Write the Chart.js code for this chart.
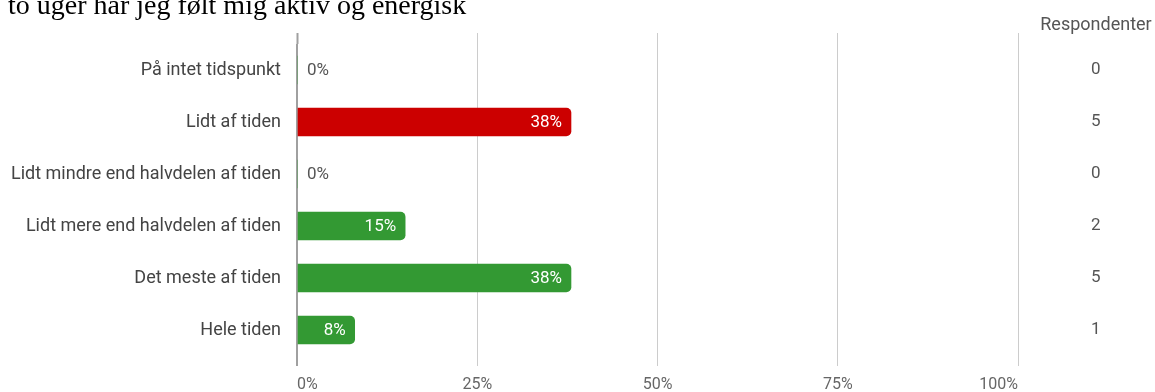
<!DOCTYPE html>
<html>
<head>
<meta charset="utf-8">
<script src="https://cdn.jsdelivr.net/npm/chart.js@4/dist/chart.umd.min.js"></script>
<style>
	html, body { margin: 0; padding: 0; background: #fff; overflow: hidden; }
	#wrap { position: relative; width: 1155px; height: 392px; }
	#title {
		position: absolute; left: 8px; top: -9px; white-space: nowrap;
		font: 28px/28px "Liberation Serif", "Times New Roman", serif; color: #000;
	}
	#resp {
		position: absolute; left: 1036px; top: 13px; width: 120px; text-align: center;
		font: 18px/22px Roboto, sans-serif; color: #555;
	}
	canvas { position: absolute; left: 0; top: 0; }
</style>
</head>
<body>
<div id="wrap">
	<canvas id="chart" width="1155" height="392"></canvas>
	<div id="title">to uger har jeg følt mig aktiv og energisk</div>
	<div id="resp">Respondenter</div>
</div>
<script>
const categories = [
	'På intet tidspunkt',
	'Lidt af tiden',
	'Lidt mindre end halvdelen af tiden',
	'Lidt mere end halvdelen af tiden',
	'Det meste af tiden',
	'Hele tiden'
];
const percentValues = [ 0, 38, 0, 15, 38, 8 ];
const respondents = [ 0, 5, 0, 2, 5, 1 ];
const barColors = [ '#339933', '#cc0000', '#339933', '#339933', '#339933', '#339933' ];
const xTicks = [ 0, 25, 50, 75, 100 ];

// ---- bar value labels
const barLabels = {
	id: 'barLabels',
	afterDatasetsDraw( chart ) {
		const ctx = chart.ctx;
		const meta = chart.getDatasetMeta( 0 );
		ctx.save();
		ctx.font = '17px Roboto, sans-serif';
		ctx.textBaseline = 'middle';
		meta.data.forEach( ( bar, i ) => {
			const txt = percentValues[ i ] + '%';
			if ( percentValues[ i ] > 5 ) {
				ctx.fillStyle = '#ffffff';
				ctx.textAlign = 'right';
				ctx.fillText( txt, bar.x - 9, bar.y + 1 );
			} else {
				ctx.fillStyle = '#555555';
				ctx.textAlign = 'left';
				ctx.fillText( txt, bar.base + 10, bar.y + 1 );
			}
		} );
		ctx.restore();
	}
};

const gridColor = ( c ) => ( c.tick && c.tick.value === 0 ) ? '#a0a0a0' : '#cccccc';
const gridWidth = ( c ) => ( c.tick && c.tick.value === 0 ) ? 2 : 1;

// fixed axis sizes, and no extra vertical padding from tick padding
const fixWidth = ( w ) => ( s ) => { s.width = w; s.paddingTop = 0; s.paddingBottom = 0; };

new Chart( document.getElementById( 'chart' ), {
	type: 'bar',
	data: {
		labels: categories,
		datasets: [ {
			data: percentValues,
			backgroundColor: barColors,
			borderRadius: 5,
			barThickness: 28
		} ]
	},
	options: {
		indexAxis: 'y',
		responsive: false,
		animation: false,
		layout: { padding: { top: 33, right: 0, bottom: 0, left: 0 } },
		plugins: { legend: { display: false }, tooltip: { enabled: false } },
		scales: {
			x: {
				position: 'bottom',
				min: 0,
				max: 100,
				afterBuildTicks: ( s ) => { s.ticks = xTicks.map( ( v ) => ( { value: v } ) ); },
				grid: { color: gridColor, lineWidth: gridWidth, tickLength: 10, tickColor: gridColor, tickWidth: gridWidth },
				border: { display: false },
				ticks: {
					padding: 9,
					align: 'inner',
					color: '#666666',
					font: { family: 'Roboto', size: 16 },
					maxRotation: 0,
					callback: ( v ) => v + '%'
				},
				afterFit: ( s ) => { s.height = 36; }
			},
			x2: {
				position: 'top',
				min: 0,
				max: 100,
				afterBuildTicks: ( s ) => { s.ticks = xTicks.map( ( v ) => ( { value: v } ) ); },
				grid: { drawOnChartArea: false, tickLength: 11, color: gridColor, tickColor: gridColor, tickWidth: gridWidth },
				border: { display: false },
				ticks: { display: false },
				afterFit: ( s ) => { s.height = 11; }
			},
			y: {
				position: 'left',
				grid: { display: false, drawTicks: false },
				border: { display: false },
				ticks: {
					padding: 16,
					color: '#444444',
					font: { family: 'Roboto', size: 18 }
				},
				afterFit: fixWidth( 297 )
			},
			y2: {
				type: 'category',
				position: 'right',
				labels: respondents.map( String ),
				grid: { display: false, drawTicks: false },
				border: { display: false },
				ticks: {
					padding: 73,
					crossAlign: 'center',
					color: '#555555',
					font: { family: 'Roboto', size: 17 }
				},
				afterFit: fixWidth( 137 )
			}
		}
	},
	plugins: [ barLabels ]
} );
</script>
</body>
</html>
